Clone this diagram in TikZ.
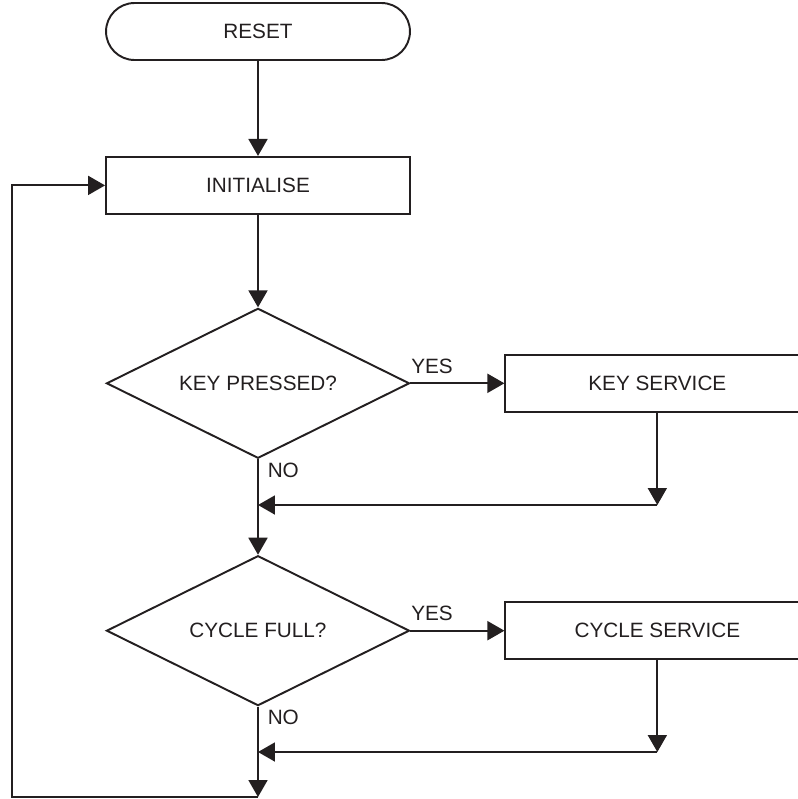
\documentclass[tikz,border=0pt]{standalone}
\usepackage{fontspec}
\setmainfont{Liberation Sans}
\usetikzlibrary{shapes.geometric,positioning,arrows.meta}
\definecolor{ink}{RGB}{35,31,32}

\begin{document}
\begin{tikzpicture}[x=0.02cm, y=-0.02cm, line width=1.1pt, color=ink,
    font=\fontsize{11.8}{14}\selectfont,
    block/.style={draw, rectangle, minimum width=6.08cm, minimum height=1.14cm, inner sep=0pt},
    term/.style={block, rounded corners=0.57cm},
    decision/.style={draw, diamond, shape aspect=2, minimum width=6.06cm, minimum height=3cm, inner sep=0pt},
    arr/.style={-{Triangle[length=0.34cm, width=0.38cm]}},
    lbl/.style={inner sep=5pt}]
    \useasboundingbox (0,0) rectangle (798,799);
    \clip (0,0) rectangle (798,799);

    \node[term] (reset) at (258,31.5) {RESET};
    \node[block] (init) [below=1.9cm of reset] {INITIALISE};
    \node[decision] (keyq) [below=1.85cm of init] {KEY PRESSED?};
    \node[block] (keysvc) [right=1.88cm of keyq] {KEY SERVICE};
    \node[decision] (cycq) [below=1.91cm of keyq] {CYCLE FULL?};
    \node[block] (cycsvc) [right=1.88cm of cycq] {CYCLE SERVICE};

    \coordinate (join1) at (258,505);
    \coordinate (join2) at (258,752);
    \coordinate (tail) at (258,797);
    \coordinate (back) at (12,797);

    \draw[arr] (reset) -- (init);
    \draw[arr] (init) -- (keyq);
    \draw[arr] (keyq) -- node[lbl, above, pos=0.23] {YES} (keysvc);
    \draw[arr] (keyq) -- node[lbl, right, pos=0.12] {NO} (cycq);
    \draw[arr] (keysvc) -- (keysvc.south |- join1);
    \draw[arr] (keysvc.south |- join1) -- (join1);

    \draw[arr] (cycq) -- node[lbl, above, pos=0.23] {YES} (cycsvc);
    \draw[arr] (cycq) -- node[lbl, right, pos=0.12] {NO} (tail);
    \draw[arr] (cycsvc) -- (cycsvc.south |- join2);
    \draw[arr] (cycsvc.south |- join2) -- (join2);

    % back to the start
    \draw[arr] (tail) -- (back) |- (init);
\end{tikzpicture}
\end{document}
